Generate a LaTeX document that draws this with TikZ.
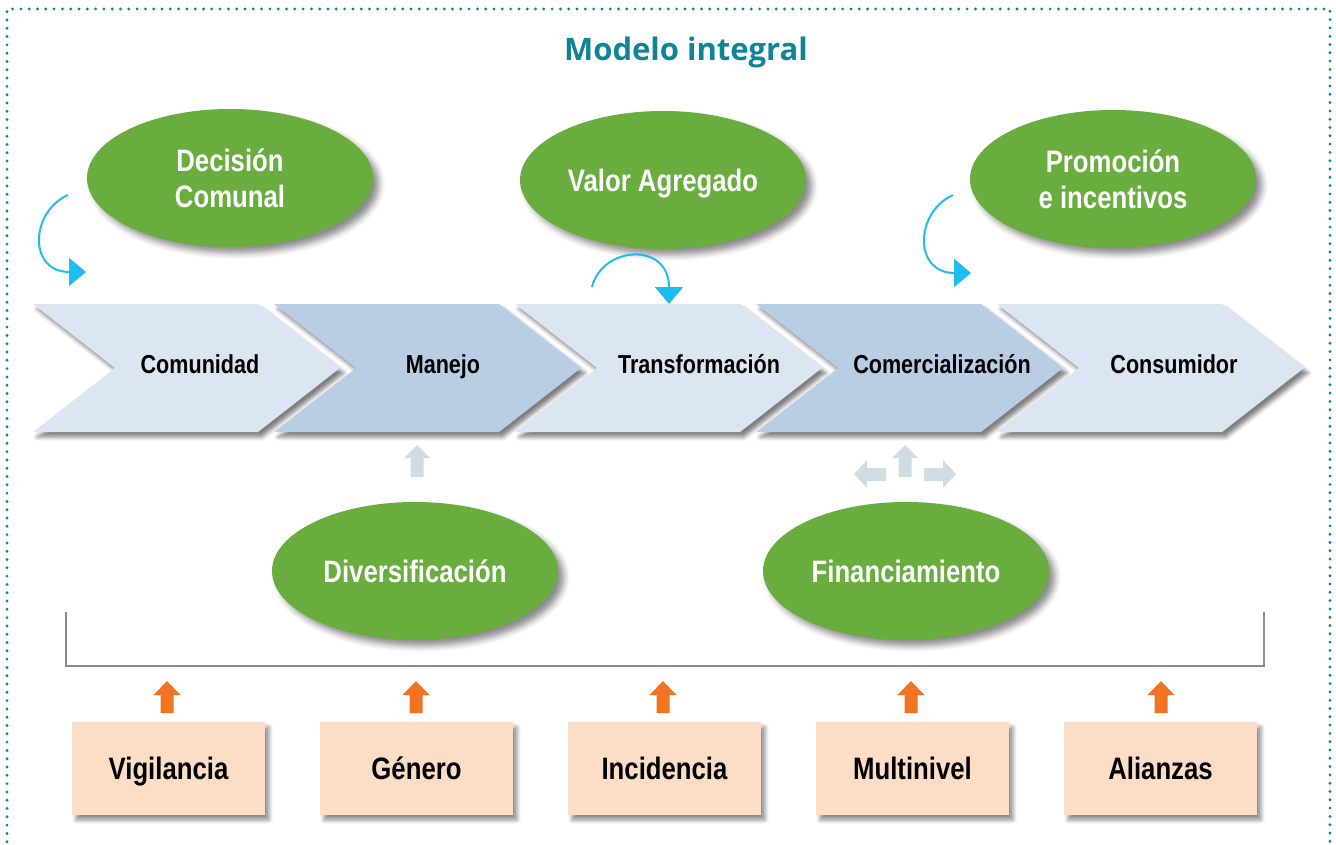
\documentclass[tikz,border=0pt]{standalone}
\usepackage{fontspec}
\setmainfont{Liberation Sans}[FakeStretch=0.83]
\newfontfamily\titlefont{Open Sans}
\usetikzlibrary{shapes.geometric,arrows.meta,shadows.blur,calc}
\definecolor{ttl}{HTML}{0F8496}
\definecolor{grn}{HTML}{68AD3E}
\definecolor{chlight}{HTML}{DCE6F2}
\definecolor{chdark}{HTML}{B9CDE5}
\definecolor{peach}{HTML}{FCDEC6}
\definecolor{orng}{HTML}{F47322}
\definecolor{cyanarr}{HTML}{1EBDEF}
\definecolor{grayarr}{HTML}{CFDCE3}
\definecolor{brk}{HTML}{8C8C8C}
\begin{document}
\begin{tikzpicture}[x=1pt,y=-1pt,
  ell/.style={ellipse, fill=grn, text=white, align=center, inner sep=0pt,
    minimum width=286pt, minimum height=138pt, text depth=0pt,
    font=\fontsize{31}{36}\selectfont\bfseries,
    blur shadow={shadow xshift=6pt, shadow yshift=-6pt, shadow blur radius=6pt, shadow opacity=45}},
  chev/.style={blur shadow={shadow xshift=4pt, shadow yshift=-5pt, shadow blur radius=4pt, shadow opacity=50}},
  chtext/.style={font=\fontsize{26}{30}\selectfont\bfseries, text=black, inner sep=0pt, text depth=0pt},
  pbox/.style={rectangle, fill=peach, minimum width=193pt, minimum height=93pt, inner sep=0pt,
    font=\fontsize{31}{36}\selectfont\bfseries, text=black, text depth=0pt,
    blur shadow={shadow xshift=4pt, shadow yshift=-5pt, shadow blur radius=4pt, shadow opacity=45}},
  curvarr/.style={draw=cyanarr, line width=2pt, -{Triangle[length=17pt,width=28pt]}},
]
\useasboundingbox (0,0) rectangle (1336,845);
% dotted frame
\draw[ttl, line width=3.2pt, line cap=round, dash pattern=on 0pt off 8.3pt]
  (7,850) -- (7,9) -- (1330,9) -- (1330,850);
% title
\node[font=\titlefont\bfseries\fontsize{31}{36}\selectfont, text=ttl, text depth=0pt] (title) at (686,49) {Modelo integral};

% chevrons
\foreach \L/\c in {33/chlight, 274/chdark, 515/chlight, 756/chdark, 997/chlight}{
  \fill[\c, chev] (\L,304) -- ({\L+225},304) -- ({\L+307},368) -- ({\L+225},432) -- (\L,432) -- ({\L+82},368) -- cycle;
}
\node[chtext] (com) at (200,364) {Comunidad};
\node[chtext] (man) at (443,364) {Manejo};
\node[chtext] (tra) at (699,364) {Transformación};
\node[chtext] (cme) at (942,364) {Comercialización};
\node[chtext] (con) at (1174,364) {Consumidor};

% ellipses
\node[ell] (dec) at (230,178) {Decisión\\Comunal};
\node[ell] (val) at (663,180) {Valor Agregado};
\node[ell] (pro) at (1113,179) {Promoción\\e incentivos};
\node[ell] (div) at (415,571) {Diversificación};
\node[ell] (fin) at (906,571) {Financiamiento};

% cyan curved arrows
\coordinate (a1s) at (68,195); \coordinate (a1e) at (86,272);
\draw[curvarr] (a1s) .. controls (30,212) and (28,272) .. (a1e);
\coordinate (a2s) at (592,287); \coordinate (a2e) at (669,304);
\draw[curvarr] (a2s) .. controls (602,246) and (669,241) .. (a2e);
\coordinate (a3s) at (953,195); \coordinate (a3e) at (971,273);
\draw[curvarr] (a3s) .. controls (915,212) and (913,273) .. (a3e);

% gray block arrows
\foreach \cx in {417,905}{
  \fill[grayarr] (\cx,445) -- ({\cx+13},458) -- ({\cx+6.5},458) -- ({\cx+6.5},477) -- ({\cx-6.5},477) -- ({\cx-6.5},458) -- ({\cx-13},458) -- cycle;
}
\fill[grayarr] (854,474) -- (867,460) -- (867,468) -- (886,468) -- (886,481) -- (867,481) -- (867,488) -- cycle;
\fill[grayarr] (956,474) -- (943,460) -- (943,468) -- (924,468) -- (924,481) -- (943,481) -- (943,488) -- cycle;

% bracket
\draw[brk, line width=1.6pt] (66,612) -- (66,666) -- (1264,666) -- (1264,612);

% boxes
\node[pbox] (vig) at (168.5,768.5) {Vigilancia};
\node[pbox] (gen) at (416.5,768.5) {Género};
\node[pbox] (inc) at (664.5,768.5) {Incidencia};
\node[pbox] (mul) at (912.5,768.5) {Multinivel};
\node[pbox] (ali) at (1160.5,768.5) {Alianzas};

% orange arrows
\foreach \cx in {167,416,663,911,1161}{
  \fill[orng] (\cx,681) -- ({\cx+13.5},695) -- ({\cx+6.5},695) -- ({\cx+6.5},713) -- ({\cx-6.5},713) -- ({\cx-6.5},695) -- ({\cx-13.5},695) -- cycle;
}
\end{tikzpicture}
\end{document}
